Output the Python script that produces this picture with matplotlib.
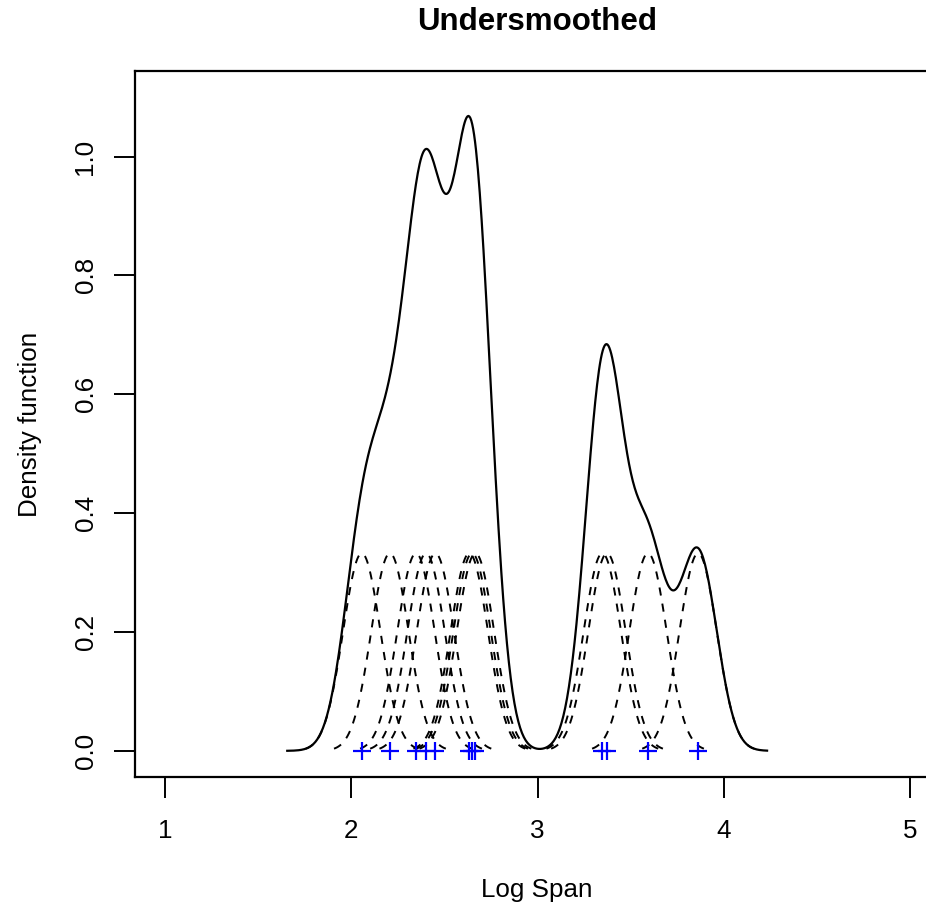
import numpy as np
import matplotlib
matplotlib.use("Agg")
import matplotlib.pyplot as plt

# log spans
log_span = [2.057, 2.208, 2.348, 2.402, 2.452, 2.634, 2.649, 2.667,
            3.348, 3.373, 3.593, 3.862]
bandwidth = 0.1
x_ticks = [1, 2, 3, 4, 5]
y_ticks = [0.0, 0.2, 0.4, 0.6, 0.8, 1.0]

plt.rcParams['font.family'] = ['Liberation Sans', 'DejaVu Sans']

def gauss(u):
    return np.exp(-0.5 * u ** 2) / np.sqrt(2 * np.pi)

pts = np.array(log_span)
n = len(pts)

fig = plt.figure(figsize=(9.26, 9.10), dpi=100)
ax = fig.add_axes([135 / 926, 133 / 910, 805 / 926, 706 / 910])

# individual kernels (scaled by 1/n)
for xi in pts:
    xs = np.linspace(xi - 3 * bandwidth, xi + 3 * bandwidth, 101)
    ys = gauss((xs - xi) / bandwidth) / (n * bandwidth)
    ax.plot(xs, ys, color='black', lw=1.4, dashes=(4.2, 4.2))

# kernel density estimate
grid = np.linspace(pts.min() - 4 * bandwidth, pts.max() + 3.7 * bandwidth, 512)
dens = gauss((grid[:, None] - pts[None, :]) / bandwidth).sum(axis=1) / (n * bandwidth)
ax.plot(grid, dens, color='black', lw=1.6)

# data points
ax.plot(pts, np.zeros(n), linestyle='none', marker='+', color='blue',
        markersize=13, markeredgewidth=1.6, clip_on=False)

ax.set_xlim(0.84, 5.16)
ax.set_ylim(-0.044, 1.144)
ax.set_xticks(x_ticks)
ax.set_xticklabels([str(v) for v in x_ticks])
ax.set_yticks(y_ticks)
ax.set_yticklabels(['%.1f' % v for v in y_ticks])
for lbl in ax.get_yticklabels():
    lbl.set_rotation(90)
    lbl.set_va('center')

ax.tick_params(axis='both', length=15, width=1.4, labelsize=18.75, color='black')
ax.tick_params(axis='x', pad=15)
ax.tick_params(axis='y', pad=12)
for sp in ax.spines.values():
    sp.set_linewidth(1.6)

fig.text(537 / 926, 1 - 890 / 910, 'Log Span', ha='center', va='center', fontsize=18.75)
fig.text(30 / 926, 1 - 424 / 910, 'Density function', ha='center', va='center',
         rotation=90, fontsize=18.75)
fig.text(537 / 926, 1 - 22 / 910, 'Undersmoothed', ha='center', va='center',
         fontsize=22.5, fontweight='bold')

fig.savefig('out.png', dpi=100)
